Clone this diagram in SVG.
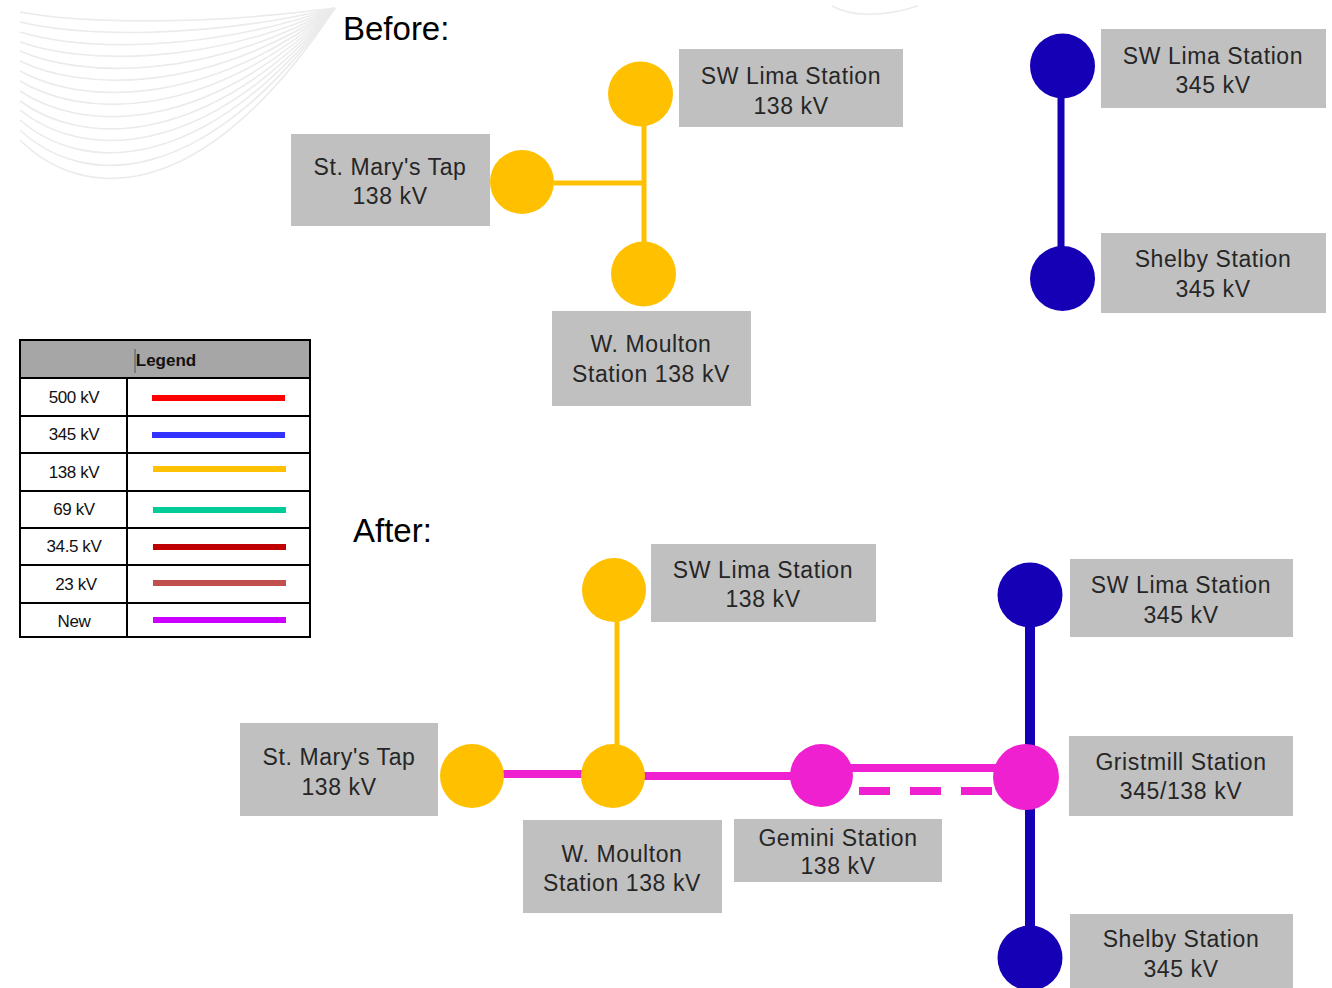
<svg xmlns="http://www.w3.org/2000/svg" width="1332" height="988" viewBox="0 0 1332 988">
<style>
.bg{fill:none;stroke:#ebebeb;stroke-width:1.6}
.box{fill:#c0c0c0}
.lbl{font-family:"Liberation Sans",Arial,sans-serif;font-size:23px;fill:#262626;text-anchor:middle;letter-spacing:0.6px}
.title{font-family:"Liberation Sans",Arial,sans-serif;font-size:33px;fill:#000}
.y{fill:#ffc000}
.b{fill:#1500b6}
.m{fill:#ef20d0}
.ly{stroke:#ffc000;stroke-width:5;fill:none}
.lb{stroke:#1500b6;fill:none}
.lm{stroke:#ef20d0;stroke-width:8;fill:none}
.lg{font-family:"Liberation Sans",Arial,sans-serif;font-size:17px;fill:#111;text-anchor:middle;letter-spacing:-0.4px}
.lgh{font-family:"Liberation Sans",Arial,sans-serif;font-size:17px;font-weight:bold;fill:#111;text-anchor:middle}
.grid{stroke:#000;stroke-width:2;fill:none}
.sw{stroke-width:6}
</style>
<rect width="1332" height="988" fill="#fff"/>
<g id="background">
<path class="bg" d="M20,12 C80,23 200,26 335,8"/>
<path class="bg" d="M20,22 C80,36 200,40 335,8"/>
<path class="bg" d="M20,32 C80,50 200,54 335,8"/>
<path class="bg" d="M20,42 C80,63 200,68 335,8"/>
<path class="bg" d="M20,51 C80,77 200,82 335,8"/>
<path class="bg" d="M20,61 C80,90 200,96 335,8"/>
<path class="bg" d="M20,71 C80,104 200,110 335,8"/>
<path class="bg" d="M20,81 C80,117 200,124 335,8"/>
<path class="bg" d="M20,91 C80,131 200,138 335,8"/>
<path class="bg" d="M20,101 C80,145 200,152 335,8"/>
<path class="bg" d="M20,110 C80,158 200,166 335,8"/>
<path class="bg" d="M20,120 C80,172 200,180 335,8"/>
<path class="bg" d="M20,130 C80,186 200,195 335,8"/>
<path class="bg" d="M20,140 C80,200 200,212 335,8"/>
<path class="bg" d="M832,6 C850,16 880,18 918,6"/>
</g>
<text class="title" x="343" y="40">Before:</text>
<text class="title" x="353" y="542">After:</text>
<g id="connectors">
<line class="ly" x1="554" y1="183" x2="644" y2="183"/>
<line class="ly" x1="644" y1="120" x2="644" y2="248"/>
<line class="lb" style="stroke-width:7" x1="1061" y1="90" x2="1061" y2="255"/>
<line class="ly" x1="617" y1="615" x2="617" y2="755"/>
<line class="lm" x1="500" y1="774" x2="590" y2="774"/>
<line class="lm" x1="640" y1="776" x2="800" y2="776"/>
<line class="lm" x1="845" y1="768" x2="1000" y2="768"/>
<line class="lm" x1="859" y1="791" x2="995" y2="791" stroke-dasharray="31 20"/>
<line class="lb" style="stroke-width:10" x1="1030" y1="620" x2="1030" y2="750"/>
<line class="lb" style="stroke-width:10" x1="1030" y1="805" x2="1030" y2="930"/>
</g>
<g id="before-swlima138">
<rect class="box" x="679" y="49" width="224" height="78"/>
<text class="lbl" x="791" y="84">SW Lima Station</text>
<text class="lbl" x="791" y="114">138 kV</text>
<circle class="y" cx="640.5" cy="94" r="32.5"/>
</g>
<g id="before-stmarys">
<rect class="box" x="291" y="134" width="199" height="92"/>
<text class="lbl" x="390" y="175">St. Mary's Tap</text>
<text class="lbl" x="390" y="204">138 kV</text>
<circle class="y" cx="522" cy="182" r="32"/>
</g>
<g id="before-wmoulton">
<rect class="box" x="552" y="311" width="199" height="95"/>
<text class="lbl" x="651" y="352">W. Moulton</text>
<text class="lbl" x="651" y="382">Station 138 kV</text>
<circle class="y" cx="643.5" cy="274" r="32.5"/>
</g>
<g id="before-swlima345">
<rect class="box" x="1101" y="29" width="225" height="79"/>
<text class="lbl" x="1213" y="64">SW Lima Station</text>
<text class="lbl" x="1213" y="93">345 kV</text>
<circle class="b" cx="1062.5" cy="66" r="32.5"/>
</g>
<g id="before-shelby">
<rect class="box" x="1101" y="233" width="225" height="80"/>
<text class="lbl" x="1213" y="267">Shelby Station</text>
<text class="lbl" x="1213" y="297">345 kV</text>
<circle class="b" cx="1062.5" cy="278.5" r="32.5"/>
</g>
<g id="legend">
<rect x="20" y="340" width="290" height="38" fill="#a6a6a6"/>
<rect class="grid" x="20" y="340" width="290" height="297"/>
<line class="grid" x1="20" y1="378" x2="310" y2="378"/>
<line class="grid" x1="20" y1="416" x2="310" y2="416"/>
<line class="grid" x1="20" y1="453" x2="310" y2="453"/>
<line class="grid" x1="20" y1="491" x2="310" y2="491"/>
<line class="grid" x1="20" y1="528" x2="310" y2="528"/>
<line class="grid" x1="20" y1="565" x2="310" y2="565"/>
<line class="grid" x1="20" y1="603" x2="310" y2="603"/>
<line class="grid" x1="127" y1="378" x2="127" y2="637"/>
<line x1="135" y1="349" x2="135" y2="373" stroke="#555" stroke-width="1"/>
<text class="lgh" x="166" y="366">Legend</text>
<text class="lg" x="74" y="403">500 kV</text>
<text class="lg" x="74" y="440">345 kV</text>
<text class="lg" x="74" y="478">138 kV</text>
<text class="lg" x="74" y="515">69 kV</text>
<text class="lg" x="74" y="552">34.5 kV</text>
<text class="lg" x="76" y="590">23 kV</text>
<text class="lg" x="74" y="627">New</text>
<line class="sw" x1="152" y1="398" x2="285" y2="398" stroke="#ff0000"/>
<line class="sw" x1="152" y1="435" x2="285" y2="435" stroke="#3333ff"/>
<line class="sw" x1="153" y1="469" x2="286" y2="469" stroke="#ffc000"/>
<line class="sw" x1="153" y1="510" x2="286" y2="510" stroke="#00cc99"/>
<line class="sw" x1="153" y1="547" x2="286" y2="547" stroke="#c00000"/>
<line class="sw" x1="153" y1="583" x2="286" y2="583" stroke="#c0504d"/>
<line class="sw" x1="153" y1="620" x2="286" y2="620" stroke="#cc00ff"/>
</g>
<g id="after-swlima138">
<rect class="box" x="651" y="544" width="225" height="78"/>
<text class="lbl" x="763" y="578">SW Lima Station</text>
<text class="lbl" x="763" y="607">138 kV</text>
<circle class="y" cx="614" cy="590" r="32"/>
</g>
<g id="after-stmarys">
<rect class="box" x="240" y="723" width="198" height="93"/>
<text class="lbl" x="339" y="765">St. Mary's Tap</text>
<text class="lbl" x="339" y="795">138 kV</text>
<circle class="y" cx="472" cy="776" r="32"/>
</g>
<g id="after-wmoulton">
<rect class="box" x="523" y="820" width="199" height="93"/>
<text class="lbl" x="622" y="862">W. Moulton</text>
<text class="lbl" x="622" y="891">Station 138 kV</text>
<circle class="y" cx="613" cy="776" r="32"/>
</g>
<g id="after-gemini">
<rect class="box" x="734" y="819" width="208" height="63"/>
<text class="lbl" x="838" y="846">Gemini Station</text>
<text class="lbl" x="838" y="874">138 kV</text>
<circle class="m" cx="821.5" cy="775.5" r="31.5"/>
</g>
<g id="after-swlima345">
<rect class="box" x="1070" y="559" width="223" height="78"/>
<text class="lbl" x="1181" y="593">SW Lima Station</text>
<text class="lbl" x="1181" y="623">345 kV</text>
<circle class="b" cx="1030" cy="595" r="32.5"/>
</g>
<g id="after-gristmill">
<rect class="box" x="1069" y="736" width="224" height="80"/>
<text class="lbl" x="1181" y="770">Gristmill Station</text>
<text class="lbl" x="1181" y="799">345/138 kV</text>
<circle class="m" cx="1026" cy="777" r="33"/>
</g>
<g id="after-shelby">
<rect class="box" x="1070" y="914" width="223" height="80"/>
<text class="lbl" x="1181" y="947">Shelby Station</text>
<text class="lbl" x="1181" y="977">345 kV</text>
<circle class="b" cx="1030" cy="958" r="32.5"/>
</g>
</svg>
